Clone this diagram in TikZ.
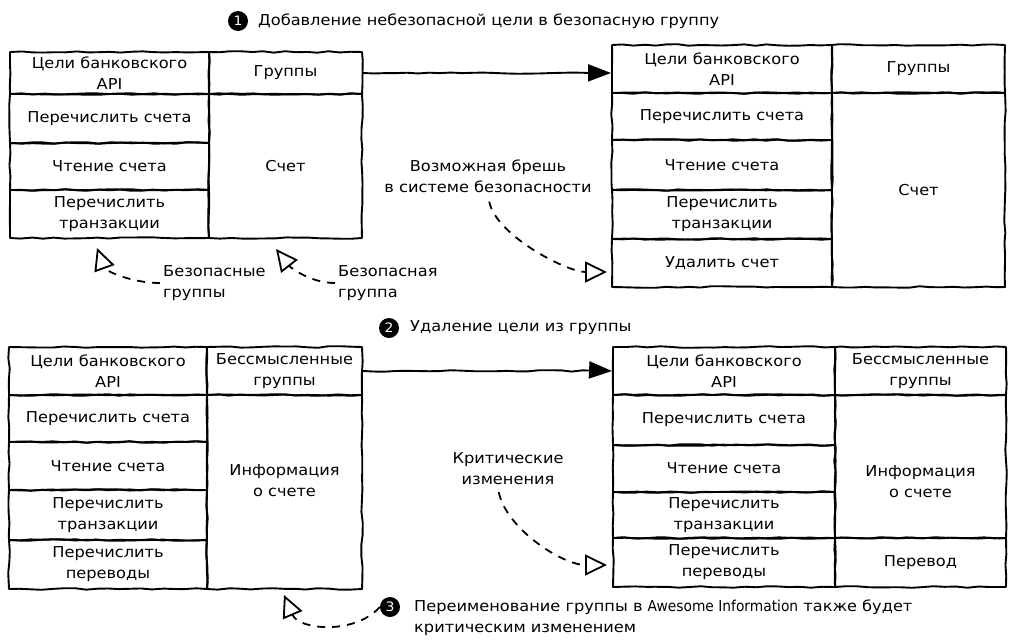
\documentclass[tikz,border=0pt]{standalone}
\usepackage{fontspec}
\setmainfont{DejaVu Sans}[FakeStretch=1.08]
\newfontfamily\narrowlatin{DejaVu Sans}[FakeStretch=0.92]
\usetikzlibrary{arrows.meta,decorations.pathmorphing}
% cell text lifted by #1 without changing the box size
\newcommand\liftedtext[2]{\raisebox{#1}[\height][\depth]{\begin{tabular}{@{}c@{}}#2\end{tabular}}}
\begin{document}
\begin{tikzpicture}[x=1pt,y=-1pt,
  font=\fontsize{15}{21}\selectfont,
  sketch/.style={decorate,decoration={random steps,segment length=11pt,amplitude=0.8pt}},
  cell/.style={draw,line width=1.9pt,sketch,line join=round,inner sep=0pt,align=center},
  flow/.style={line width=1.9pt,sketch,-{Triangle[length=23pt,width=17pt]}},
  note/.style={line width=1.8pt,dash pattern=on 8pt off 7pt,
    -{Triangle[open,length=22pt,width=21pt,line width=1.8pt]}},
  badge/.style={circle,fill=black,text=white,inner sep=0pt,minimum size=20pt,
    font=\fontsize{13}{13}\selectfont},
  label/.style={inner sep=3pt}
]
\pgfmathsetseed{11}
\useasboundingbox (0,0) rectangle (1009,643);
\fill[white] (0,0) rectangle (1009,643);

% ---- step 1: left table ----
\node[cell,minimum width=199pt,minimum height=42pt]  (tlA) at (109.5,73)  {Цели банковского\\API};
\node[cell,minimum width=153pt,minimum height=42pt]  (tlB) at (285.5,73)  {Группы};
\node[cell,minimum width=199pt,minimum height=49pt]  (tl1) at (109.5,118.5) {Перечислить счета};
\node[cell,minimum width=199pt,minimum height=47pt]  (tl2) at (109.5,166.5) {Чтение счета};
\node[cell,minimum width=199pt,minimum height=48pt]  (tl3) at (109.5,214)   {Перечислить\\транзакции};
\node[cell,minimum width=153pt,minimum height=144pt] (tlG) at (285.5,166)   {Счет};

% ---- step 1: right table ----
\node[cell,minimum width=220pt,minimum height=48pt]  (trA) at (722,69)    {Цели банковского\\API};
\node[cell,minimum width=173pt,minimum height=48pt]  (trB) at (918.5,69)  {Группы};
\node[cell,minimum width=220pt,minimum height=47pt]  (tr1) at (722,116.5) {Перечислить счета};
\node[cell,minimum width=220pt,minimum height=50pt]  (tr2) at (722,165)   {Чтение счета};
\node[cell,minimum width=220pt,minimum height=49pt]  (tr3) at (722,214.5) {Перечислить\\транзакции};
\node[cell,minimum width=220pt,minimum height=48pt]  (tr4) at (722,263)   {Удалить счет};
\node[cell,minimum width=173pt,minimum height=194pt] (trG) at (918.5,190) {Счет};

% ---- step 2: left table ----
\node[cell,minimum width=198pt,minimum height=48pt]  (blA) at (108,371)   {Цели банковского\\API};
\node[cell,minimum width=155pt,minimum height=48pt]  (blB) at (284.5,371) {Бессмысленные\\группы};
\node[cell,minimum width=198pt,minimum height=47pt]  (bl1) at (108,418.5) {Перечислить счета};
\node[cell,minimum width=198pt,minimum height=48pt]  (bl2) at (108,466)   {Чтение счета};
\node[cell,minimum width=198pt,minimum height=50pt]  (bl3) at (108,515)   {Перечислить\\транзакции};
\node[cell,minimum width=198pt,minimum height=49pt]  (bl4) at (108,564.5) {Перечислить\\переводы};
\node[cell,minimum width=155pt,minimum height=194pt] (blG) at (284.5,492)
  {\liftedtext{10pt}{Информация\\о счете}};

% ---- step 2: right table ----
\node[cell,minimum width=222pt,minimum height=48pt]  (brA) at (724,371)   {Цели банковского\\API};
\node[cell,minimum width=171pt,minimum height=48pt]  (brB) at (920.5,371) {Бессмысленные\\группы};
\node[cell,minimum width=222pt,minimum height=50pt]  (br1) at (724,420)   {Перечислить счета};
\node[cell,minimum width=222pt,minimum height=47pt]  (br2) at (724,468.5) {Чтение счета};
\node[cell,minimum width=222pt,minimum height=46pt]  (br3) at (724,515)   {Перечислить\\транзакции};
\node[cell,minimum width=222pt,minimum height=49pt]  (br4) at (724,562.5) {Перечислить\\переводы};
\node[cell,minimum width=171pt,minimum height=143pt] (brG) at (920.5,466.5)
  {\liftedtext{-16pt}{Информация\\о счете}};
\node[cell,minimum width=171pt,minimum height=49pt]  (brH) at (920.5,562.5) {Перевод};

% ---- numbered captions ----
\node[badge] (c1) at (238,21) {1};
\node[label,anchor=west] (l1) at (255,21) {Добавление небезопасной цели в безопасную группу};
\node[badge] (c2) at (389,328) {2};
\node[label,anchor=west] (l2) at (407,328) {Удаление цели из группы};
\node[badge] (c3) at (390,607) {3};
\node[label,anchor=west,align=left] (l3) at (411,618)
  {Переименование группы в {\narrowlatin Awesome Information} также будет\\критическим изменением};

% ---- annotations ----
\node[label,align=left,anchor=west] (sg1) at (160,283) {Безопасные\\группы};
\node[label,align=left,anchor=west] (sg2) at (335,283) {Безопасная\\группа};
\node[label,align=center] (gap)  at (488,176) {Возможная брешь\\в системе безопасности};
\node[label,align=center] (crit) at (508,469) {Критические\\изменения};

\coordinate (t1) at (97,248);
\coordinate (t2) at (276,249);
\coordinate (t3) at (607,272);
\coordinate (t4) at (284,595);
\coordinate (t5) at (607,565);

% ---- connectors ----
\draw[flow] (tlB.east) -- (tlB.east -| trA.west);
\draw[flow] (blB.east) -- (brA.west);

\draw[note] (sg1.west) .. controls +(-30,0) and +(8,22) .. (t1);
\draw[note] (sg2.west) .. controls +(-25,0) and +(14,18) .. (t2);
\draw[note,shorten <=6pt] (gap.south) .. controls +(8,40) and +(-40,0) .. (t3);
\draw[note,shorten <=4pt] ([xshift=-10pt]crit.south) .. controls +(8,40) and +(-45,0) .. (t5);
\draw[note] (c3.west) .. controls +(-25,28) and +(15,35) .. (t4);
\end{tikzpicture}
\end{document}
